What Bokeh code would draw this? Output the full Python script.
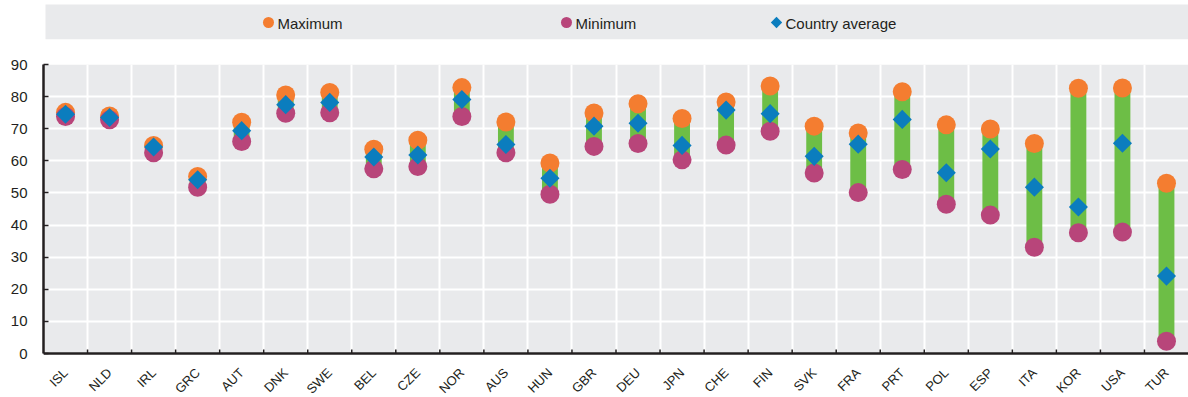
import math

from bokeh.core.properties import value
from bokeh.embed import file_html
from bokeh.layouts import column
from bokeh.models import BoxAnnotation, ColumnDataSource, FixedTicker, Range1d, Span
from bokeh.plotting import figure
from bokeh.resources import INLINE

# ---- data -------------------------------------------------------------
countries = ["ISL", "NLD", "IRL", "GRC", "AUT", "DNK", "SWE", "BEL", "CZE",
             "NOR", "AUS", "HUN", "GBR", "DEU", "JPN", "CHE", "FIN", "SVK",
             "FRA", "PRT", "POL", "ESP", "ITA", "KOR", "USA", "TUR"]
maximum = [75.1, 74.0, 64.8, 55.1, 72.0, 80.5, 81.3, 63.6, 66.4, 82.8, 72.1,
           59.3, 74.9, 77.8, 73.2, 78.3, 83.3, 70.8, 68.7, 81.5, 71.2, 69.9,
           65.4, 82.6, 82.7, 53.0]
minimum = [73.8, 72.8, 62.5, 51.8, 66.0, 74.8, 75.0, 57.5, 58.2, 73.8, 62.5,
           49.6, 64.5, 65.4, 60.3, 64.9, 69.2, 56.2, 50.1, 57.3, 46.5, 43.1,
           33.1, 37.6, 37.8, 3.8]
average = [74.5, 73.5, 64.3, 54.1, 69.4, 77.5, 78.2, 61.2, 61.8, 79.1, 65.1,
           54.6, 70.8, 71.7, 64.8, 75.8, 74.7, 61.4, 65.2, 72.9, 56.3, 63.7,
           51.8, 45.6, 65.5, 24.1]
y_ticks = [0, 10, 20, 30, 40, 50, 60, 70, 80, 90]
legend_labels = ["Maximum", "Minimum", "Country average"]

# ---- style ------------------------------------------------------------
FONT = "'Liberation Sans Narrow', 'Liberation Sans', Arial, sans-serif"
TEXT = "#231F20"
PANEL = "#E9EAEC"
C_MAX = "#F47D30"
C_MIN = "#B8457A"
C_AVG = "#0B7DBE"
C_BAR = "#6DBE46"

W = 1188
FRAME_LEFT = 43
LEGEND_H = 44
MAIN_H = 353
TOP_PAD = 20          # space above the 90 line
VALUE_PX = 289        # pixel height of the 0..90 value band
LABEL_PX = MAIN_H - TOP_PAD - VALUE_PX   # strip under the axis for names
Y_MAX = 90


def px(n):
    """Convert a pixel distance to value units on the y scale."""
    return n * Y_MAX / VALUE_PX


# ---- legend strip (coordinates in page pixels) ------------------------
lg = figure(width=W, height=LEGEND_H, x_range=Range1d(FRAME_LEFT, W),
            y_range=Range1d(LEGEND_H, 0), min_border_left=FRAME_LEFT,
            min_border_right=0, min_border_top=0, min_border_bottom=0,
            x_axis_type=None, y_axis_type=None,
            output_backend="svg", toolbar_location=None)
lg.grid.visible = False
lg.outline_line_color = None
lg.background_fill_color = "white"
lg.border_fill_color = "white"

lg.quad(left=45, right=W, top=4, bottom=38.7, fill_color=PANEL, line_color=None)

marker_x = [268, 566, 776]
lg.scatter(x=marker_x[:2], y=[22, 22], size=11, marker="circle",
           fill_color=[C_MAX, C_MIN], line_color=None)
lg.scatter(x=[marker_x[2]], y=[22], size=8, marker="square", angle=math.pi / 4,
           fill_color=C_AVG, line_color=None)
lg.text(x=[m + 9 for m in marker_x], y=[22.5] * 3, text=legend_labels,
        text_font=value(FONT), text_font_size="15px", text_color=TEXT,
        text_baseline="middle", text_align="left")

# ---- main chart -------------------------------------------------------
n = len(countries)
xs = list(range(n))
bounds = [i + 0.5 for i in range(n - 1)]

src = ColumnDataSource(dict(x=xs, hi=maximum, lo=minimum, avg=average,
                            name=countries))

p = figure(width=W, height=MAIN_H, x_range=Range1d(-0.5, n - 0.5),
           y_range=Range1d(-px(LABEL_PX), Y_MAX), x_axis_location=None,
           output_backend="svg", toolbar_location=None,
           min_border_left=FRAME_LEFT, min_border_right=0,
           min_border_top=TOP_PAD, min_border_bottom=0)
p.background_fill_color = "white"
p.border_fill_color = "white"
p.outline_line_color = None

# grey panel behind the 0..90 band only; the strip below holds the names
p.add_layout(BoxAnnotation(bottom=0, top=Y_MAX, fill_color=PANEL, fill_alpha=1,
                           line_color=None, level="image"))

p.ygrid.ticker = FixedTicker(ticks=y_ticks)
p.xgrid.ticker = FixedTicker(ticks=bounds)
p.xgrid.bounds = (0, Y_MAX)
p.grid.grid_line_color = "white"
p.grid.grid_line_width = 2

p.vbar(x="x", width=0.36, bottom="lo", top="hi", source=src,
       fill_color=C_BAR, line_color=None)
p.scatter(x="x", y="hi", size=19, marker="circle", source=src,
          fill_color=C_MAX, line_color=None)
p.scatter(x="x", y="lo", size=19, marker="circle", source=src,
          fill_color=C_MIN, line_color=None)
p.scatter(x="x", y="avg", size=13.5, marker="square", angle=math.pi / 4,
          source=src, fill_color=C_AVG, line_color=None)

# category axis: base line, short inward ticks at boundaries, slanted names
p.add_layout(Span(location=0, dimension="width", line_color=TEXT,
                  line_width=2.5))
p.segment(x0=bounds, y0=[0] * len(bounds), x1=bounds,
          y1=[px(4)] * len(bounds), line_color=TEXT, line_width=1.5)
p.text(x="x", y=-px(17), text="name", source=src, angle=math.pi / 4,
       text_align="right", text_baseline="middle", text_font=value(FONT),
       text_font_size="13px", text_color=TEXT)

ya = p.yaxis[0]
ya.bounds = (0, Y_MAX)
ya.ticker = FixedTicker(ticks=y_ticks)
ya.major_tick_in = 5
ya.major_tick_out = 0
ya.major_tick_line_color = TEXT
ya.major_tick_line_width = 1.5
ya.minor_tick_line_color = None
ya.axis_line_color = TEXT
ya.axis_line_width = 2.5
ya.major_label_text_font = FONT
ya.major_label_text_font_size = "15px"
ya.major_label_text_color = TEXT
ya.major_label_standoff = 16

layout = column(lg, p, spacing=0)
open("out.html", "w").write(file_html(layout, INLINE))
